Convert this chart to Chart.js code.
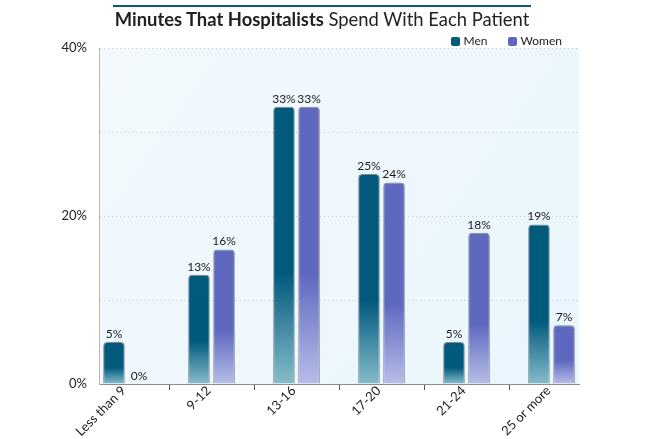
<!DOCTYPE html>
<html>
<head>
<meta charset="utf-8">
<script src="https://cdn.jsdelivr.net/npm/chart.js@4.4.1/dist/chart.umd.min.js"></script>
<style>
  body { margin: 0; background: #fff; }
  #wrap { position: relative; width: 645px; height: 439px; }
  #title {
    position: absolute; top: 5px; left: 113px; width: 418px;
    border-top: 2px solid #0d5a78;
    font-family: Lato, sans-serif; font-size: 18.4px; line-height: 22px;
    color: #222; text-align: center; padding-top: 1px;
  }
  #title b { font-weight: 700; }
  #legend {
    position: absolute; top: 34px; right: 83px;
    font-family: Lato, sans-serif; font-size: 12px; line-height: 14px; color: #222;
    display: flex; gap: 20px;
  }
  #legend span.box {
    display: inline-block; width: 9px; height: 9px; border-radius: 2px;
    margin-right: 4px; vertical-align: -1px;
  }
</style>
</head>
<body>
<div id="wrap">
  <div id="title"><b>Minutes That Hospitalists</b> Spend With Each Patient</div>
  <div id="legend"></div>
  <canvas id="chart" width="645" height="439"></canvas>
</div>
<script>
const categories = ["Less than 9", "9-12", "13-16", "17-20", "21-24", "25 or more"];
const seriesNames = ["Men", "Women"];
const men = [5, 13, 33, 25, 5, 19];
const women = [0, 16, 33, 24, 18, 7];
const yTicks = [0, 10, 20, 30, 40];

const darkColors = ["#01597c", "#5f68bf"];
const lightColors = ["#86bccb", "#b6bde8"];

Chart.defaults.font.family = "Lato, sans-serif";
Chart.defaults.color = "#222";

// html legend
document.getElementById("legend").innerHTML = seriesNames.map((n, i) =>
  '<div><span class="box" style="background:' + darkColors[i] + '"></span>' + n + '</div>'
).join("");

// bar fill fades to light near the bottom of each bar
function barFill(i) {
  return function (c) {
    if (c.type !== "data" || !c.chart.chartArea) return darkColors[i];
    const y = c.chart.scales.y;
    const top = y.getPixelForValue(c.raw.y);
    const bottom = y.getPixelForValue(0);
    if (bottom - top < 1) return darkColors[i];
    const g = c.chart.ctx.createLinearGradient(0, top, 0, bottom);
    g.addColorStop(0, darkColors[i]);
    g.addColorStop(0.6, darkColors[i]);
    g.addColorStop(1, lightColors[i]);
    return g;
  };
}

const plotBg = {
  id: "plotBg",
  beforeDraw(chart) {
    const a = chart.chartArea;
    const ctx = chart.ctx;
    const g = ctx.createLinearGradient(a.left, a.top, a.right, a.bottom);
    g.addColorStop(0, "#f3f9fd");
    g.addColorStop(1, "#e9f6fd");
    ctx.save();
    ctx.fillStyle = g;
    ctx.fillRect(a.left, a.top, a.right - a.left, a.bottom - a.top);
    ctx.restore();
  }
};

const valueLabels = {
  id: "valueLabels",
  afterDatasetsDraw(chart) {
    const ctx = chart.ctx;
    ctx.save();
    ctx.font = "12px Lato, sans-serif";
    ctx.fillStyle = "#1a1a1a";
    ctx.textAlign = "center";
    ctx.textBaseline = "bottom";
    chart.data.datasets.forEach((ds, di) => {
      chart.getDatasetMeta(di).data.forEach((bar, i) => {
        ctx.fillText(ds.data[i].y + "%", bar.x, bar.y - 2);
      });
    });
    ctx.restore();
  }
};

const edge = 15 / 85;

new Chart(document.getElementById("chart"), {
  type: "bar",
  data: {
    datasets: [men, women].map((vals, i) => ({
      label: seriesNames[i],
      data: vals.map((v, k) => ({ x: k, y: v })),
      backgroundColor: barFill(i),
      borderColor: "#80868c",
      borderWidth: 1,
      borderSkipped: "bottom",
      borderRadius: { topLeft: 4, topRight: 4 },
      categoryPercentage: 0.59,
      barPercentage: 0.86
    }))
  },
  options: {
    responsive: false,
    animation: false,
    layout: { padding: { top: 48, right: 66, left: 0, bottom: 0 } },
    plugins: {
      tooltip: { enabled: false },
      legend: { display: false }
    },
    scales: {
      x: {
        type: "linear",
        min: -0.5 + edge,
        max: 5.5 - edge,
        offset: false,
        afterBuildTicks: axis => { axis.ticks = categories.map((c, i) => ({ value: i })); },
        afterFit: axis => { axis.height = 55; },
        ticks: {
          autoSkip: false,
          maxRotation: 45,
          minRotation: 45,
          padding: -7,
          labelOffset: -3,
          font: { size: 13 },
          color: "#222",
          callback: v => categories[v]
        },
        grid: {
          offset: true,
          drawOnChartArea: false,
          drawTicks: true,
          tickLength: 6,
          color: "#555"
        },
        border: { color: "#8a8f95" }
      },
      y: {
        min: 0,
        max: 40,
        afterBuildTicks: axis => { axis.ticks = yTicks.map(v => ({ value: v })); },
        afterFit: axis => { axis.width = 99; },
        ticks: {
          padding: 12,
          font: { size: 13 },
          color: "#222",
          callback: v => (v % 20 === 0 ? v + "%" : "")
        },
        grid: {
          drawTicks: false,
          color: "#c4c8cc",
          lineWidth: 1
        },
        border: { color: "#b5b9bd", dash: [1, 3] }
      }
    }
  },
  plugins: [plotBg, valueLabels]
});
</script>
</body>
</html>
